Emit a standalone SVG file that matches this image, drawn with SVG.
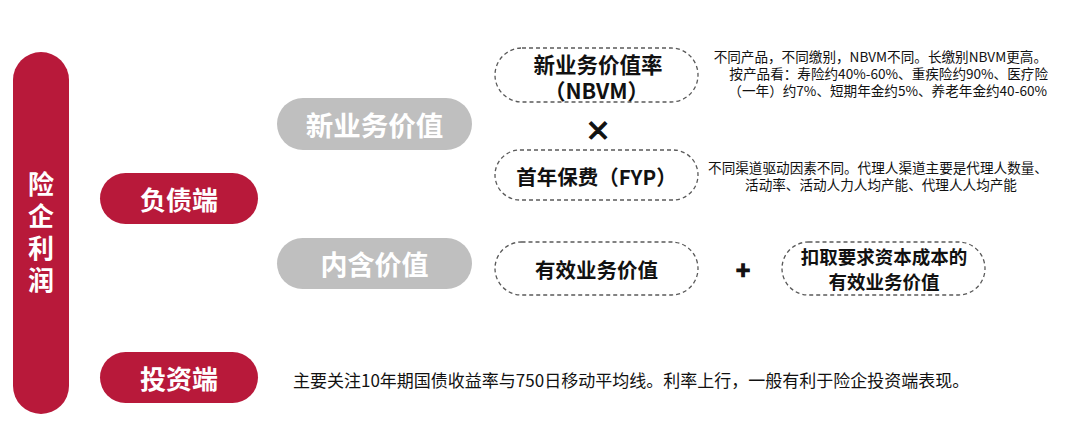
<svg xmlns="http://www.w3.org/2000/svg" width="1080" height="429" viewBox="0 0 1080 429">
<style>
.red{fill:#B8193A}
.gray{fill:#BFBFBF}
.dash{fill:none;stroke:#595959;stroke-width:1.3;stroke-dasharray:4 3}
.wt{font-family:"Noto Sans CJK SC","Noto Sans",sans-serif;font-weight:700;fill:#fff;text-anchor:middle;dominant-baseline:central}
.bt{font-family:"Noto Sans CJK SC","Noto Sans",sans-serif;font-weight:700;fill:#111;text-anchor:middle;dominant-baseline:central}
.st{font-family:"Noto Sans CJK SC","Noto Sans",sans-serif;fill:#111}
.op{stroke:#111;stroke-width:1.2}
</style>
<rect width="1080" height="429" fill="#fff"/>
<g id="profit">
<rect class="red" x="13" y="52" width="56" height="362" rx="28"/>
<text class="wt" x="41" y="235" font-size="26" writing-mode="vertical-rl" letter-spacing="6">险企利润</text>
</g>
<g id="liability">
<rect class="red" x="100" y="173" width="158" height="51" rx="25.5"/>
<text class="wt" x="179" y="198.5" font-size="26">负债端</text>
</g>
<g id="investment">
<rect class="red" x="100" y="352" width="158" height="51" rx="25.5"/>
<text class="wt" x="179" y="377.5" font-size="26">投资端</text>
</g>
<g id="nbv">
<rect class="gray" x="277" y="98" width="195" height="52" rx="26"/>
<text class="wt" x="374.5" y="124" font-size="27.5">新业务价值</text>
</g>
<g id="ev">
<rect class="gray" x="277" y="238" width="195" height="51" rx="25.5"/>
<text class="wt" x="374.5" y="263.5" font-size="27">内含价值</text>
</g>
<g id="nbvm">
<rect class="dash" x="495" y="48" width="203" height="54" rx="27"/>
<text class="bt" font-size="21.5"><tspan x="598" y="63">新业务价值率</tspan><tspan x="596.5" y="89">（NBVM）</tspan></text>
</g>
<text class="bt op" x="598" y="128" font-size="26">×</text>
<g id="fyp">
<rect class="dash" x="495" y="150" width="203" height="50" rx="25"/>
<text class="bt" x="596.5" y="176" font-size="20.5">首年保费（FYP）</text>
</g>
<g id="evb">
<rect class="dash" x="495" y="242" width="203" height="53" rx="26.5"/>
<text class="bt" x="596.5" y="268.5" font-size="20.5">有效业务价值</text>
</g>
<text class="bt op" x="743" y="268" font-size="24">+</text>
<g id="evb2">
<rect class="dash" x="782" y="242" width="203" height="53" rx="26.5"/>
<text class="bt" font-size="18.5"><tspan x="884" y="256">扣取要求资本成本的</tspan><tspan x="884" y="281">有效业务价值</tspan></text>
</g>
<g id="notes">
<text class="st" font-size="13.6" text-anchor="end"><tspan x="1047" y="62">不同产品，不同缴别，NBVM不同。长缴别NBVM更高。</tspan><tspan x="1048" y="79">按产品看：寿险约40%-60%、重疾险约90%、医疗险</tspan><tspan x="1047" y="95.5">（一年）约7%、短期年金约5%、养老年金约40-60%</tspan></text>
<text class="st" font-size="13.6" text-anchor="middle"><tspan x="878" y="173">不同渠道驱动因素不同。代理人渠道主要是代理人数量、</tspan><tspan x="881" y="190">活动率、活动人力人均产能、代理人人均产能</tspan></text>
<text class="st" x="293" y="387" font-size="17">主要关注10年期国债收益率与750日移动平均线。利率上行，一般有利于险企投资端表现。</text>
</g>
</svg>
